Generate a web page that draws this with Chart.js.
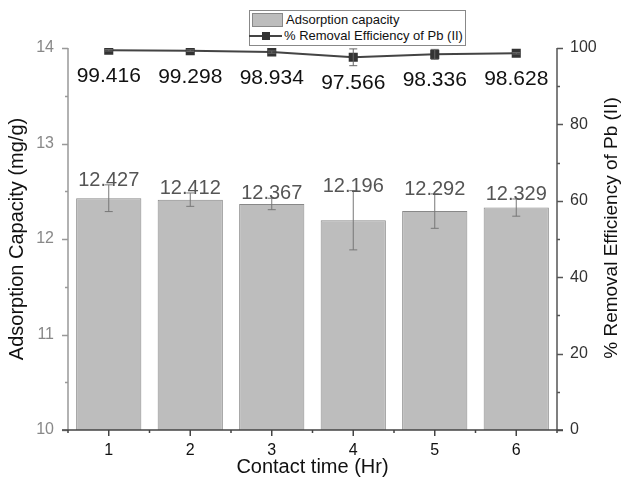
<!DOCTYPE html>
<html>
<head>
<meta charset="utf-8">
<script src="https://cdn.jsdelivr.net/npm/chart.js@4.4.1/dist/chart.umd.min.js"></script>
<style>
  html, body { margin: 0; padding: 0; background: #fff; }
  #wrap { position: relative; width: 624px; height: 492px; }
  #legend {
    position: absolute; left: 249px; top: 10px;
    border: 1px solid #888; background: #fff; white-space: nowrap;
    font-family: "Liberation Sans", Arial, sans-serif; font-size: 13px; color: #111;
    padding: 1px 2px 1px 2px; line-height: 16px;
  }
  #legend .row { display: flex; align-items: center; height: 16px; }
  #legend .swatch { width: 29px; height: 12px; background: #bdbdbd; border: 1px solid #888; margin-right: 3px; }
  #legend .lineSw { position: relative; width: 33px; height: 12px; margin-left: -3px; margin-right: 2px; }
  #legend .lineSw:before { content: ""; position: absolute; left: 0; right: 0; top: 5px; height: 2px; background: #444; }
  #legend .lineSw:after { content: ""; position: absolute; left: 13px; top: 2px; width: 8px; height: 8px; background: #333; }
</style>
</head>
<body>
<div id="wrap">
  <canvas id="chart" width="624" height="492"></canvas>
  <div id="legend">
    <div class="row"><span class="swatch"></span>Adsorption capacity</div>
    <div class="row"><span class="lineSw"></span>% Removal Efficiency of Pb (II)</div>
  </div>
</div>
<script>
// data
const contactTimes = ['1', '2', '3', '4', '5', '6'];
const adsorptionCapacity = [12.427, 12.412, 12.367, 12.196, 12.292, 12.329];
const capacityError = [0.14, 0.07, 0.06, 0.31, 0.18, 0.09];
const removalEfficiency = [99.416, 99.298, 98.934, 97.566, 98.336, 98.628];
const efficiencyError = [0.2, 0.2, 0.3, 2.2, 1.3, 0.2];
const leftTicks = [10, 11, 12, 13, 14];
const rightTicks = [0, 20, 40, 60, 80, 100];
const rightTitle = '% Removal Efficiency of Pb (II)';

const FONT = '"Liberation Sans", Arial, sans-serif';

// error bars, value labels, axis lines and ticks
const extrasPlugin = {
  id: 'extras',
  afterDatasetsDraw(chart) {
    const ctx = chart.ctx;
    const y = chart.scales.y;
    const y1 = chart.scales.y1;
    const barMeta = chart.getDatasetMeta(0);
    const lineMeta = chart.getDatasetMeta(1);
    ctx.save();

    // bar error bars
    ctx.strokeStyle = '#777';
    ctx.lineWidth = 1;
    barMeta.data.forEach((bar, i) => {
      const top = y.getPixelForValue(adsorptionCapacity[i] + capacityError[i]);
      const bot = y.getPixelForValue(adsorptionCapacity[i] - capacityError[i]);
      ctx.beginPath();
      ctx.moveTo(bar.x, top); ctx.lineTo(bar.x, bot);
      ctx.moveTo(bar.x - 4, top); ctx.lineTo(bar.x + 4, top);
      ctx.moveTo(bar.x - 4, bot); ctx.lineTo(bar.x + 4, bot);
      ctx.stroke();
    });

    // line error bars
    ctx.strokeStyle = '#666';
    lineMeta.data.forEach((pt, i) => {
      const top = y1.getPixelForValue(removalEfficiency[i] + efficiencyError[i]);
      const bot = y1.getPixelForValue(removalEfficiency[i] - efficiencyError[i]);
      ctx.beginPath();
      ctx.moveTo(pt.x, top); ctx.lineTo(pt.x, bot);
      ctx.moveTo(pt.x - 4, top); ctx.lineTo(pt.x + 4, top);
      ctx.moveTo(pt.x - 4, bot); ctx.lineTo(pt.x + 4, bot);
      ctx.stroke();
    });

    // value labels
    ctx.font = '20px ' + FONT;
    ctx.textAlign = 'center';
    ctx.textBaseline = 'alphabetic';
    ctx.fillStyle = '#555';
    barMeta.data.forEach((bar, i) => {
      const top = y.getPixelForValue(adsorptionCapacity[i] + capacityError[i]);
      ctx.fillText(adsorptionCapacity[i].toFixed(3), bar.x, top + 1);
    });
    ctx.font = '21px ' + FONT;
    ctx.fillStyle = '#111';
    lineMeta.data.forEach((pt, i) => {
      ctx.fillText(removalEfficiency[i].toFixed(3), pt.x, pt.y + 32);
    });
    ctx.restore();
  },
  afterDraw(chart) {
    const ctx = chart.ctx;
    const a = chart.chartArea;
    const x = chart.scales.x;
    const y = chart.scales.y;
    const y1 = chart.scales.y1;
    ctx.save();
    ctx.lineWidth = 1.5;

    // left axis
    ctx.strokeStyle = '#999';
    ctx.beginPath();
    ctx.moveTo(a.left, a.top); ctx.lineTo(a.left, a.bottom);
    for (let v = 10; v <= 14; v += 0.5) {
      const py = Math.round(y.getPixelForValue(v)) + 0.5;
      const len = Number.isInteger(v) ? 6 : 3;
      ctx.moveTo(a.left, py); ctx.lineTo(a.left - len, py);
    }
    ctx.stroke();

    // right axis
    ctx.strokeStyle = '#555';
    ctx.beginPath();
    ctx.moveTo(a.right, a.top); ctx.lineTo(a.right, a.bottom);
    for (let v = 0; v <= 100; v += 10) {
      const py = Math.round(y1.getPixelForValue(v)) + 0.5;
      const len = v % 20 === 0 ? 6 : 3;
      ctx.moveTo(a.right, py); ctx.lineTo(a.right + len, py);
    }
    ctx.stroke();

    // bottom axis
    ctx.strokeStyle = '#444';
    ctx.beginPath();
    ctx.moveTo(a.left - 6, a.bottom); ctx.lineTo(a.right + 6, a.bottom);
    for (let i = 0; i < contactTimes.length; i++) {
      const px = x.getPixelForValue(i);
      ctx.moveTo(px, a.bottom); ctx.lineTo(px, a.bottom + 6);
    }
    for (let i = -0.5; i <= contactTimes.length - 0.5; i += 1) {
      const px = x.getPixelForValue(i);
      ctx.moveTo(px, a.bottom); ctx.lineTo(px, a.bottom + 3);
    }
    ctx.stroke();

    // right axis title, reading bottom to top like the left one
    ctx.translate(612, 228);
    ctx.rotate(-Math.PI / 2);
    ctx.font = '19px ' + FONT;
    ctx.fillStyle = '#111';
    ctx.textAlign = 'center';
    ctx.textBaseline = 'middle';
    ctx.fillText(rightTitle, 0, 0);
    ctx.restore();
  }
};

const ctx = document.getElementById('chart').getContext('2d');
new Chart(ctx, {
  type: 'bar',
  data: {
    labels: contactTimes,
    datasets: [
      {
        label: 'Adsorption capacity',
        data: adsorptionCapacity,
        yAxisID: 'y',
        backgroundColor: '#bdbdbd',
        borderColor: '#888',
        borderWidth: 1,
        barPercentage: 0.8,
        categoryPercentage: 1.0,
        order: 2
      },
      {
        type: 'line',
        label: rightTitle,
        data: removalEfficiency,
        yAxisID: 'y1',
        borderColor: '#444',
        borderWidth: 2,
        pointStyle: 'rect',
        pointRadius: 5,
        pointBackgroundColor: '#333',
        pointBorderColor: '#333',
        tension: 0,
        order: 1
      }
    ]
  },
  options: {
    responsive: false,
    animation: false,
    layout: { padding: { top: 48, left: 0, right: 0, bottom: 0 } },
    plugins: {
      legend: { display: false },
      tooltip: { enabled: false }
    },
    scales: {
      x: {
        grid: { display: false },
        border: { display: false },
        ticks: { color: '#111', font: { family: FONT, size: 16 }, padding: 3 },
        title: {
          display: true, text: 'Contact time (Hr)', color: '#111',
          font: { family: FONT, size: 20 }, padding: { top: 4, bottom: 13 }
        },
        afterFit(scale) { scale.height = 62; }
      },
      y: {
        position: 'left',
        min: 10, max: 14,
        afterBuildTicks(scale) { scale.ticks = leftTicks.map(v => ({ value: v })); },
        grid: { display: false },
        border: { display: false },
        ticks: { color: '#888', font: { family: FONT, size: 16 }, padding: 6 },
        title: {
          display: true, text: 'Adsorption Capacity (mg/g)', color: '#111',
          font: { family: FONT, size: 20 }, padding: { top: 5, bottom: 0 }
        },
        afterFit(scale) { scale.width = 68; }
      },
      y1: {
        position: 'right',
        min: 0, max: 100,
        afterBuildTicks(scale) { scale.ticks = rightTicks.map(v => ({ value: v })); },
        grid: { display: false },
        border: { display: false },
        ticks: { color: '#333', font: { family: FONT, size: 16 }, padding: 5 },
        afterFit(scale) { scale.width = 67; }
      }
    }
  },
  plugins: [extrasPlugin]
});
</script>
</body>
</html>
